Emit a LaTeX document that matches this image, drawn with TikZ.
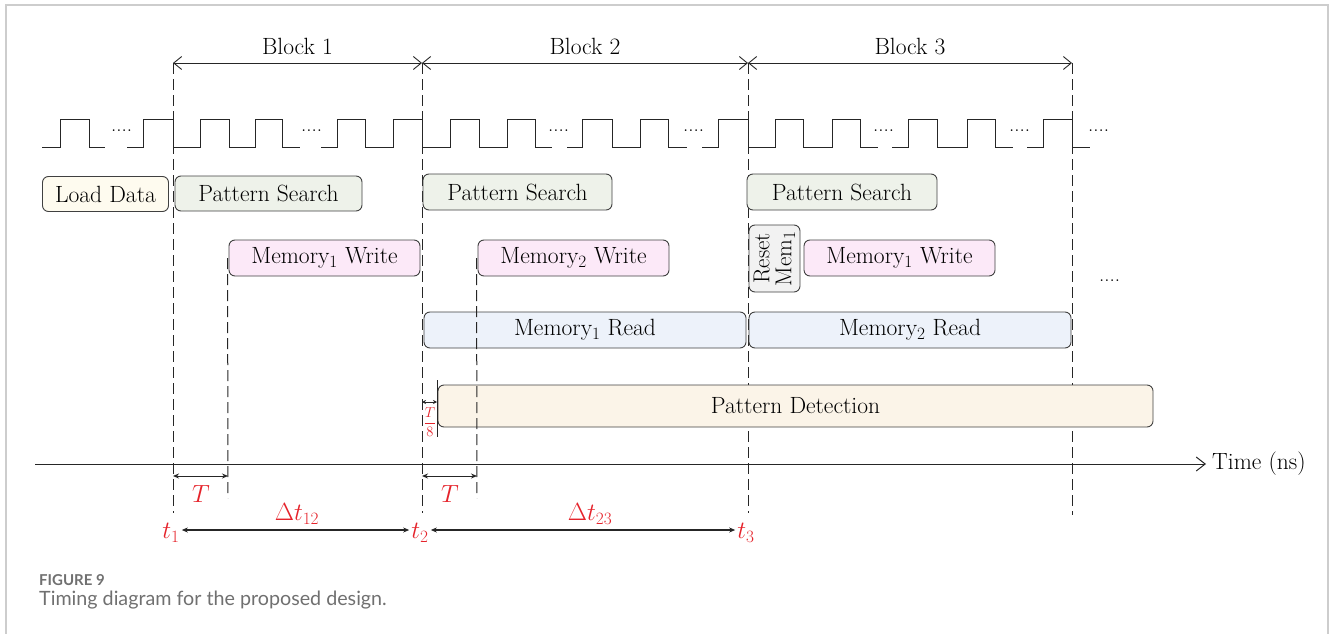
\documentclass[tikz,border=0pt]{standalone}
\usepackage{amsmath}
\usepackage{fontspec}
\newfontfamily\capfont{Lato}
\usetikzlibrary{arrows.meta}

\definecolor{loadfill}{HTML}{FEFBEF}
\definecolor{searchfill}{HTML}{EEF2EA}
\definecolor{writefill}{HTML}{FCE9F8}
\definecolor{resetfill}{HTML}{F2F2F2}
\definecolor{readfill}{HTML}{EDF2FA}
\definecolor{detectfill}{HTML}{FBF4E8}
\definecolor{annot}{HTML}{E5232B}
\definecolor{capgray}{HTML}{707070}
\definecolor{framegray}{HTML}{CDCDCD}

\newcommand\bodyfont{\fontsize{23.5}{27}\selectfont}

\tikzset{
  box/.style={draw=black!75, line width=0.9pt, rounded corners=6pt,
    inner sep=0pt, font=\bodyfont},
  marker/.style={draw=black!85, line width=1pt, dash pattern=on 11pt off 5pt},
  clock/.style={draw=black!85, line width=1pt},
  dots/.style={anchor=base west, inner sep=0pt, font=\fontsize{21}{24}\selectfont},
  span/.style={draw=black!85, line width=0.9pt,
    {Straight Barb[length=8pt,width=13pt]}-{Straight Barb[length=8pt,width=13pt]}},
  gap/.style={draw=black!85, line width=1pt,
    {Stealth[length=6pt,width=5pt]}-{Stealth[length=6pt,width=5pt]}},
  redlbl/.style={text=annot, inner sep=1pt},
}

\begin{document}
\begin{tikzpicture}[x=1pt, y=-1pt]
\useasboundingbox (0,0) rectangle (1330,634);

% outer frame
\draw[framegray, line width=1.2pt] (6,634) -- (6,5) -- (1328,5) -- (1328,634);

% vertical time markers
\coordinate (t1top) at (173,63);  \coordinate (t1bot) at (173,513);
\coordinate (t2top) at (422,63);  \coordinate (t2bot) at (422,513);
\coordinate (t3top) at (748,63);  \coordinate (t3bot) at (748,513);
\coordinate (t4top) at (1072,63); \coordinate (t4bot) at (1072,515);
\draw[marker] (t1top) -- (t1bot);
\draw[marker] (t2top) -- (t2bot);
\draw[marker] (t3top) -- (t3bot);
\draw[marker] (t4top) -- (t4bot);

% block spans
\draw[span] (t1top) -- node[above=8pt, font=\bodyfont, inner sep=0pt] {Block 1} (t2top);
\draw[span] (t2top) -- node[above=8pt, font=\bodyfont, inner sep=0pt] {Block 2} (t3top);
\draw[span] (t3top) -- node[above=8pt, font=\bodyfont, inner sep=0pt] {Block 3} (t4top);

% clock waveform (high = 119, low = 147)
\draw[clock] (42,147) -- (60,147) -- (60,119) -- (89,119) -- (89,147) -- (105,147);
\draw[clock] (127,147) -- (143,147) -- (143,119) -- (173,119) -- (173,147)
  -- (200,147) -- (200,119) -- (229,119) -- (229,147)
  -- (255,147) -- (255,119) -- (282,119) -- (282,147) -- (300,147);
\draw[clock] (321,147) -- (337,147) -- (337,119) -- (365,119) -- (365,147)
  -- (393,147) -- (393,119) -- (422,119) -- (422,147)
  -- (450,147) -- (450,119) -- (479,119) -- (479,147)
  -- (507,147) -- (507,119) -- (535,119) -- (535,147) -- (552,147);
\draw[clock] (567,147) -- (582,147) -- (582,119) -- (612,119) -- (612,147)
  -- (640,147) -- (640,119) -- (668,119) -- (668,147) -- (687,147);
\draw[clock] (702,147) -- (718,147) -- (718,119) -- (748,119) -- (748,147)
  -- (775,147) -- (775,119) -- (803,119) -- (803,147)
  -- (832,147) -- (832,119) -- (860,119) -- (860,147) -- (878,147);
\draw[clock] (892,147) -- (908,147) -- (908,119) -- (937,119) -- (937,147)
  -- (967,147) -- (967,119) -- (995,119) -- (995,147) -- (1013,147);
\draw[clock] (1027,147) -- (1043,147) -- (1043,119) -- (1072,119) -- (1072,147) -- (1090,147);
\node[dots] (d1) at (111,131) {....};
\node[dots] (d2) at (301,131) {....};
\node[dots] (d3) at (548,131) {....};
\node[dots] (d4) at (683,131) {....};
\node[dots] (d5) at (873,131) {....};
\node[dots] (d6) at (1009,131) {....};
\node[dots] (d7) at (1088,131) {....};

% task boxes
\node[box, fill=loadfill, minimum width=126pt, minimum height=35pt] (load) at (105.5,194) {Load Data};
\node[box, fill=searchfill, minimum width=187pt, minimum height=35pt] (ps1) at (268.5,193.5) {Pattern Search};
\node[box, fill=searchfill, minimum width=189pt, minimum height=36pt] (ps2) at (517.5,192) {Pattern Search};
\node[box, fill=searchfill, minimum width=190pt, minimum height=36pt] (ps3) at (842,192) {Pattern Search};

\node[box, fill=writefill, minimum width=191pt, minimum height=36pt] (mw1) at (324.5,258) {Memory$_1$ Write};
\node[box, fill=writefill, minimum width=191pt, minimum height=36pt] (mw2) at (573.5,258) {Memory$_2$ Write};
\node[box, fill=resetfill, rotate=90, align=center, minimum width=67pt, minimum height=51pt,
  font=\fontsize{23}{22}\selectfont] (rst) at (774.5,258.5) {Reset\\Mem$_1$};
\node[box, fill=writefill, minimum width=191pt, minimum height=36pt] (mw3) at (899.5,258) {Memory$_1$ Write};
\node[dots] (d8) at (1099,281) {....};

\node[box, fill=readfill, minimum width=322pt, minimum height=36pt] (mr1) at (585,330) {Memory$_1$ Read};
\node[box, fill=readfill, minimum width=322pt, minimum height=36pt] (mr2) at (910,330) {Memory$_2$ Read};

\node[box, fill=detectfill, minimum width=715pt, minimum height=42pt] (pd) at (795.5,406) {Pattern Detection};

% write-start markers (one clock period after each block start)
\coordinate (w1bot) at (228,498);
\coordinate (w2bot) at (477,498);
\draw[marker] ([xshift=-1pt]mw1.west) -- (w1bot);
\draw[marker] ([xshift=-1pt]mw2.west) -- (w2bot);

% detection offset T/8
\coordinate (dtop) at (437,380);
\coordinate (dbot) at (437,437);
\draw[draw=black!85, line width=0.9pt] (dtop) -- (dbot);
\coordinate (o1) at (422,402);
\coordinate (o2) at (437,402);
\draw[draw=black!85, line width=0.8pt,
  {Stealth[length=4pt,width=4pt]}-{Stealth[length=4pt,width=4pt]}] (o1) -- (o2);
\node[redlbl, font=\fontsize{15}{16}\selectfont, inner sep=0pt] (t8) at (430,422) {$\dfrac{T}{8}$};

% time axis
\coordinate (ax0) at (35,464);
\node[anchor=west, font=\bodyfont, inner sep=0pt] (axlbl) at (1212,464) {Time (ns)};
\draw[draw=black!85, line width=1pt, -{Straight Barb[length=9pt,width=14pt]}]
  (ax0) -- ([xshift=-6pt]axlbl.west);

% clock-period annotations
\coordinate (p1a) at (173,476); \coordinate (p1b) at (228,476);
\coordinate (p2a) at (422,476); \coordinate (p2b) at (477,476);
\draw[gap] (p1a) -- (p1b);
\draw[gap] (p2a) -- (p2b);
\node[redlbl, font=\fontsize{23}{26}\selectfont] (T1) at (201,494) {$T$};
\node[redlbl, font=\fontsize{23}{26}\selectfont] (T2) at (450,494) {$T$};

% block boundary times
\node[redlbl, font=\fontsize{25}{28}\selectfont] (t1l) at (171,533) {$t_1$};
\node[redlbl, font=\fontsize{25}{28}\selectfont] (t2l) at (420,533) {$t_2$};
\node[redlbl, font=\fontsize{25}{28}\selectfont] (t3l) at (746,533) {$t_3$};
\draw[gap, line width=1.2pt, shorten <=1pt, shorten >=1pt] (t1l.east |- 0,530) -- (t2l.west |- 0,530);
\draw[gap, line width=1.2pt, shorten <=1pt, shorten >=1pt] (t2l.east |- 0,530) -- (t3l.west |- 0,530);
\node[redlbl, font=\fontsize{23}{26}\selectfont] (d12) at (297,514) {$\Delta t_{12}$};
\node[redlbl, font=\fontsize{23}{26}\selectfont] (d23) at (590,514) {$\Delta t_{23}$};

% caption
\node[anchor=base west, inner sep=0pt, text=capgray, font=\capfont\bfseries\fontsize{15}{17}\selectfont]
  (fig) at (39,585) {FIGURE 9};
\node[anchor=base west, inner sep=0pt, text=capgray, font=\capfont\fontsize{19.7}{22}\selectfont]
  (cap) at (39,605) {Timing diagram for the proposed design.};
\end{tikzpicture}
\end{document}
